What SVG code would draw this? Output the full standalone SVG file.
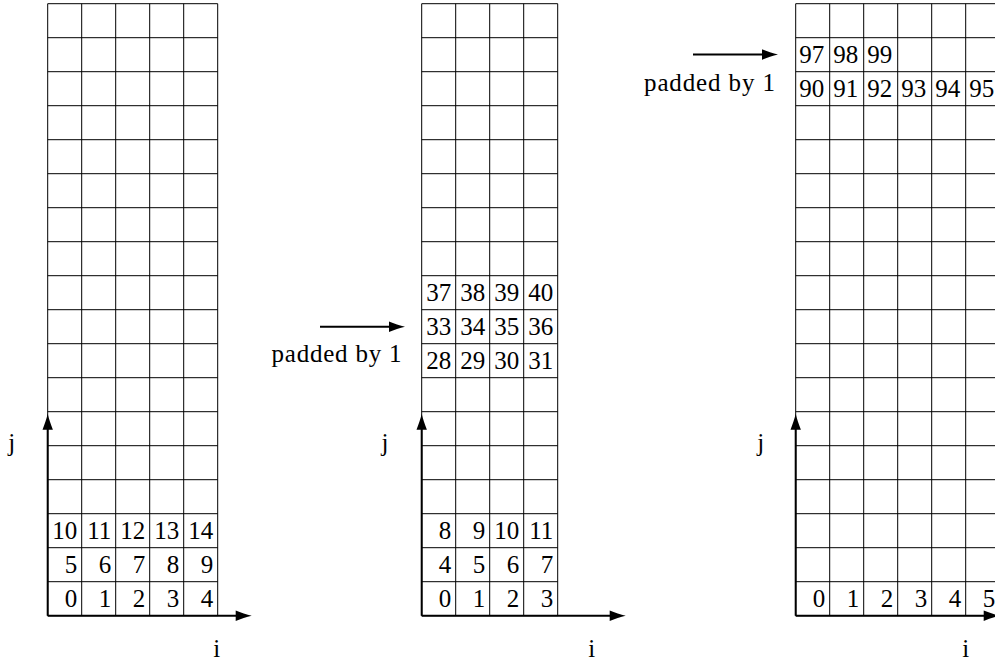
<svg xmlns="http://www.w3.org/2000/svg" width="995" height="662" viewBox="0 0 995 662" font-family="Liberation Serif, DejaVu Serif, serif">
<style>
.grid{stroke:#000;stroke-width:1;fill:none}
.axis{stroke:#000;stroke-width:2;fill:none}
text{font-family:'Liberation Serif','DejaVu Serif',serif;font-size:25px;fill:#000}
.num{text-anchor:end}
.lbl{text-anchor:middle}
.pad{text-anchor:end}
</style>
<defs>
<marker id="arr" markerUnits="userSpaceOnUse" markerWidth="30" markerHeight="14" viewBox="-17 -7 30 14" refX="-10" refY="0" orient="auto" overflow="visible">
<path d="M0,0 C-5,-1.2 -11,-3.2 -16,-5.2 L-16,5.2 C-11,3.2 -5,1.2 0,0 Z" fill="#000"/>
</marker>
</defs>
<rect width="995" height="662" fill="#fff"/>

<g id="grid-left">
<path class="grid" d="M47.7 3.7H217.7M47.7 37.7H217.7M47.7 71.7H217.7M47.7 105.7H217.7M47.7 139.7H217.7M47.7 173.7H217.7M47.7 207.7H217.7M47.7 241.7H217.7M47.7 275.7H217.7M47.7 309.7H217.7M47.7 343.7H217.7M47.7 377.7H217.7M47.7 411.7H217.7M47.7 445.7H217.7M47.7 479.7H217.7M47.7 513.7H217.7M47.7 547.7H217.7M47.7 581.7H217.7M47.7 615.7H217.7M47.7 3.7V615.7M81.7 3.7V615.7M115.7 3.7V615.7M149.7 3.7V615.7M183.7 3.7V615.7M217.7 3.7V615.7"/>
<g class="num">
<text x="77.3" y="606.7">0</text><text x="111.3" y="606.7">1</text><text x="145.3" y="606.7">2</text><text x="179.3" y="606.7">3</text><text x="213.3" y="606.7">4</text>
<text x="77.3" y="572.7">5</text><text x="111.3" y="572.7">6</text><text x="145.3" y="572.7">7</text><text x="179.3" y="572.7">8</text><text x="213.3" y="572.7">9</text>
<text x="77.3" y="538.7">10</text><text x="111.3" y="538.7">11</text><text x="145.3" y="538.7">12</text><text x="179.3" y="538.7">13</text><text x="213.3" y="538.7">14</text>
</g>
</g>

<g id="grid-middle">
<path class="grid" d="M421.7 3.7H557.7M421.7 37.7H557.7M421.7 71.7H557.7M421.7 105.7H557.7M421.7 139.7H557.7M421.7 173.7H557.7M421.7 207.7H557.7M421.7 241.7H557.7M421.7 275.7H557.7M421.7 309.7H557.7M421.7 343.7H557.7M421.7 377.7H557.7M421.7 411.7H557.7M421.7 445.7H557.7M421.7 479.7H557.7M421.7 513.7H557.7M421.7 547.7H557.7M421.7 581.7H557.7M421.7 615.7H557.7M421.7 3.7V615.7M455.7 3.7V615.7M489.7 3.7V615.7M523.7 3.7V615.7M557.7 3.7V615.7"/>
<g class="num">
<text x="451.3" y="606.7">0</text><text x="485.3" y="606.7">1</text><text x="519.3" y="606.7">2</text><text x="553.3" y="606.7">3</text>
<text x="451.3" y="572.7">4</text><text x="485.3" y="572.7">5</text><text x="519.3" y="572.7">6</text><text x="553.3" y="572.7">7</text>
<text x="451.3" y="538.7">8</text><text x="485.3" y="538.7">9</text><text x="519.3" y="538.7">10</text><text x="553.3" y="538.7">11</text>
<text x="451.3" y="368.7">28</text><text x="485.3" y="368.7">29</text><text x="519.3" y="368.7">30</text><text x="553.3" y="368.7">31</text>
<text x="451.3" y="334.7">33</text><text x="485.3" y="334.7">34</text><text x="519.3" y="334.7">35</text><text x="553.3" y="334.7">36</text>
<text x="451.3" y="300.7">37</text><text x="485.3" y="300.7">38</text><text x="519.3" y="300.7">39</text><text x="553.3" y="300.7">40</text>
</g>
</g>

<g id="grid-right">
<path class="grid" d="M795.7 3.7H1000M795.7 37.7H1000M795.7 71.7H1000M795.7 105.7H1000M795.7 139.7H1000M795.7 173.7H1000M795.7 207.7H1000M795.7 241.7H1000M795.7 275.7H1000M795.7 309.7H1000M795.7 343.7H1000M795.7 377.7H1000M795.7 411.7H1000M795.7 445.7H1000M795.7 479.7H1000M795.7 513.7H1000M795.7 547.7H1000M795.7 581.7H1000M795.7 615.7H1000M795.7 3.7V615.7M829.7 3.7V615.7M863.7 3.7V615.7M897.7 3.7V615.7M931.7 3.7V615.7M965.7 3.7V615.7"/>
<g class="num">
<text x="825.3" y="606.7">0</text><text x="859.3" y="606.7">1</text><text x="893.3" y="606.7">2</text><text x="927.3" y="606.7">3</text><text x="961.3" y="606.7">4</text><text x="995.3" y="606.7">5</text>
<text x="824.3" y="96.7">90</text><text x="858.3" y="96.7">91</text><text x="892.3" y="96.7">92</text><text x="926.3" y="96.7">93</text><text x="960.3" y="96.7">94</text><text x="994.3" y="96.7">95</text>
<text x="824.3" y="62.7">97</text><text x="858.3" y="62.7">98</text><text x="892.3" y="62.7">99</text>
</g>
</g>

<g id="connectors">
<path class="axis" d="M47.7 615.7V423.7" marker-end="url(#arr)"/>
<path class="axis" d="M47.7 615.7H241.7" marker-end="url(#arr)"/>
<path class="axis" d="M421.7 615.7V423.7" marker-end="url(#arr)"/>
<path class="axis" d="M421.7 615.7H615.7" marker-end="url(#arr)"/>
<path class="axis" d="M795.7 615.7V423.7" marker-end="url(#arr)"/>
<path class="axis" d="M795.7 615.7H989.7" marker-end="url(#arr)"/>
<path class="axis" d="M320 326.7H395" marker-end="url(#arr)"/>
<path class="axis" d="M693 54.5H768" marker-end="url(#arr)"/>
</g>

<g id="labels">
<text class="lbl" x="11.7" y="451">j</text>
<text class="lbl" x="216.7" y="657">i</text>
<text class="lbl" x="385" y="451">j</text>
<text class="lbl" x="591.7" y="657">i</text>
<text class="lbl" x="760.7" y="451">j</text>
<text class="lbl" x="965.7" y="657">i</text>
<text class="pad" x="401.5" y="361.7" textLength="130" lengthAdjust="spacing">padded by 1</text>
<text class="pad" x="775" y="90.7" textLength="131" lengthAdjust="spacing">padded by 1</text>
</g>
</svg>
